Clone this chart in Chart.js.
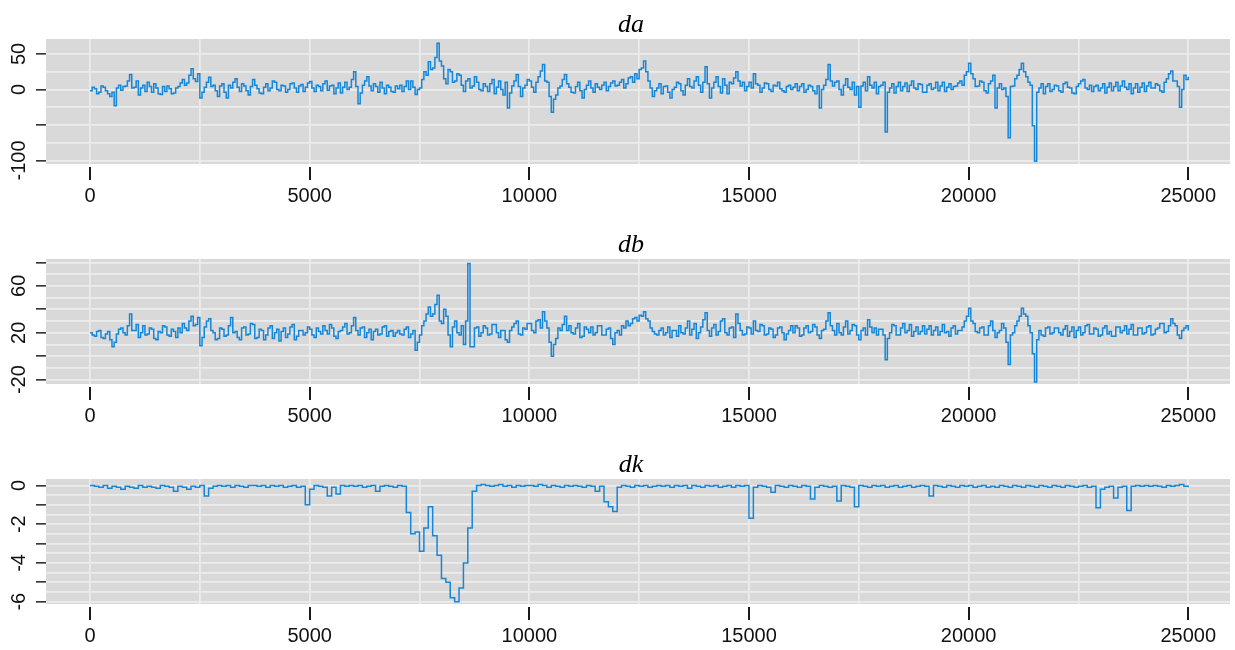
<!DOCTYPE html>
<html>
<head>
<meta charset="utf-8">
<script src="https://cdn.jsdelivr.net/npm/chart.js@4.4.1/dist/chart.umd.min.js"></script>
<style>
  html, body { margin: 0; padding: 0; background: #fff; }
  .panel { position: absolute; left: 0; width: 1235px; }
</style>
</head>
<body>
<div class="panel" style="top:0;height:220px"><canvas id="c1"></canvas></div>
<div class="panel" style="top:220px;height:220px"><canvas id="c2"></canvas></div>
<div class="panel" style="top:440px;height:210px"><canvas id="c3"></canvas></div>
<script>
// values; da and db every 50 steps, dk every 100 steps
const DA_STEP = 50;
const DB_STEP = 50;
const DK_STEP = 100;

const da = [
  -2, 3, 1, -6, -4, 5, 3, -2, -6, -10, -4, -23, 2, 6, -1, 4, 5, 12, 21, 2,
  3, 12, -8, 2, 6, -3, 10, 4, -4, 8, 2, -6, -7, 4, -3, 5, 1, -6, -5, 2,
  4, 9, 14, 6, 9, 20, 29, 15, 11, 22, -12, -4, 3, 10, 17, 4, 6, -2, -10, 5,
  8, -4, -12, 6, 2, 10, 15, 3, -3, 8, 5, -2, -8, 4, 14, 6, 1, -5, -6, 3,
  8, -2, 2, 12, 10, 0, -2, 6, 5, -4, 0, 8, 9, 2, -4, 5, 7, -3, 3, 9,
  11, 2, -3, 6, 4, -2, 8, 12, -1, 5, 6, -6, 2, 9, -5, 3, 10, 0, 3, 14,
  25, 4, -20, -5, 6, 12, 18, 5, -2, 8, 4, -4, 10, 2, -6, 6, 3, -3, -4, 5,
  1, 6, -3, 4, 12, 0, 12, 3, -7, 0, 2, 14, 25, 20, 39, 28, 30, 45, 65, 40,
  33, 15, 8, 28, 25, 10, 12, 22, 20, 6, -3, 12, 15, 2, 5, 18, 10, 0, -2, 8,
  4, -3, 8, 14, -6, 3, 12, 0, -8, 10, -26, -5, 5, 12, 21, 4, -10, 2, 6, 14,
  12, 3, -4, 10, 18, 26, 35, 12, 10, -10, -32, -14, -8, 2, 5, 14, 21, 8, 3, -4,
  -5, 4, 10, -2, -12, 0, 6, 12, 2, -4, 8, 3, 0, 6, 10, -2, 4, 9, 12, 5,
  6, 10, 14, 2, 8, 16, 18, 10, 22, 15, 28, 30, 40, 25, 12, 2, -10, -2, 2, 8,
  -6, 4, 5, -4, -12, 0, 3, 10, 8, -2, -8, 6, 15, 4, 2, 12, 18, 6, -4, 10,
  32, 8, -12, 2, 10, 18, 4, -5, 15, 6, -6, 10, 8, 16, 25, 12, 5, 10, -2, 4,
  10, 2, 22, 8, 6, -4, 2, 9, 8, 0, -3, 6, 5, 10, 1, -2, -4, 4, 6, 0,
  3, 8, -2, 4, 8, -4, 0, 6, 4, -2, -6, 5, -26, 0, 6, 14, 35, 12, 5, 10,
  12, 0, -8, 6, 15, 3, 0, 10, -8, 4, -25, 5, 10, -2, 18, 6, 2, 10, -6, 4,
  6, 10, -60, -4, 2, 8, -5, 4, 10, -2, 4, 9, -3, 6, 12, 2, 0, 8, 7, -4,
  -4, 6, 8, 0, 2, 10, -2, 5, 10, -3, 3, 8, 0, 4, 5, 9, 12, 6, 20, 25,
  37, 22, 15, 4, 5, 12, 10, -2, -5, 8, 12, 20, -26, 2, 8, 0, 2, -10, -68, 4,
  5, 15, 20, 28, 37, 25, 18, 10, 6, -51, -101, -4, 2, 8, -6, 4, 8, -3, 0, 6,
  5, -2, -4, 8, 10, 3, 2, -5, -6, 4, 8, 12, 14, 2, 0, 6, -3, 4, 6, -2,
  2, 8, -5, 3, 9, -2, 4, 10, -2, 5, 12, 3, 0, 8, -6, 2, 8, -4, 3, 9,
  -3, 5, 10, 2, 2, 8, 6, -2, -4, 10, 15, 22, 26, 12, 12, 4, -25, 0, 20, 14,
  18
];

const db = [
  20, 18, 17, 21, 22, 16, 15, 19, 21, 14, 8, 12, 19, 23, 24, 20, 18, 26, 36, 22,
  22, 27, 16, 20, 26, 18, 19, 24, 23, 15, 14, 21, 20, 26, 25, 18, 17, 23, 21, 16,
  24, 20, 28, 24, 22, 30, 34, 26, 27, 33, 9, 16, 25, 30, 32, 22, 20, 14, 15, 24,
  23, 17, 18, 26, 33, 20, 21, 16, 14, 24, 25, 18, 19, 28, 27, 15, 16, 23, 22, 14,
  18, 24, 26, 15, 20, 23, 13, 21, 24, 16, 19, 25, 27, 14, 17, 22, 22, 18, 20, 25,
  23, 18, 16, 24, 21, 19, 26, 22, 19, 27, 24, 17, 15, 21, 22, 25, 28, 19, 20, 26,
  33, 22, 18, 24, 25, 16, 20, 23, 14, 21, 23, 18, 19, 25, 26, 17, 21, 22, 17, 20,
  22, 19, 18, 23, 25, 16, 19, 22, 5, 12, 18, 26, 30, 36, 42, 34, 36, 44, 52, 30,
  28, 40, 34, 18, 8, 25, 30, 20, 18, 26, 10, 30, 79, 8, 8, 24, 25, 17, 20, 26,
  24, 18, 19, 27, 27, 20, 16, 22, 22, 14, 12, 22, 25, 28, 30, 19, 18, 24, 23, 28,
  28, 22, 20, 30, 31, 24, 38, 30, 24, 12, 0, 10, 15, 24, 22, 27, 34, 22, 26, 20,
  19, 24, 28, 16, 17, 25, 23, 20, 25, 18, 20, 26, 26, 18, 18, 23, 24, 15, 10, 20,
  22, 18, 26, 24, 30, 26, 28, 32, 33, 30, 35, 34, 38, 32, 30, 24, 21, 19, 18, 22,
  24, 18, 20, 25, 16, 22, 22, 17, 26, 20, 19, 24, 30, 18, 23, 28, 15, 20, 25, 31,
  37, 22, 17, 24, 27, 18, 21, 30, 32, 20, 18, 24, 25, 16, 36, 28, 22, 18, 19, 25,
  24, 19, 30, 22, 21, 27, 26, 18, 19, 24, 23, 16, 18, 24, 25, 20, 14, 19, 22, 26,
  20, 26, 24, 17, 18, 24, 26, 20, 21, 27, 25, 18, 15, 22, 23, 30, 37, 26, 22, 18,
  28, 20, 18, 25, 30, 19, 22, 27, 26, 18, 14, 22, 24, 18, 31, 25, 20, 24, 18, 23,
  23, 18, -3, 15, 20, 27, 26, 18, 18, 24, 28, 20, 22, 27, 17, 21, 25, 19, 21, 26,
  19, 23, 26, 18, 22, 25, 18, 21, 27, 20, 21, 17, 24, 26, 19, 22, 22, 25, 30, 34,
  41, 30, 28, 21, 20, 24, 25, 18, 18, 26, 30, 22, 16, 20, 22, 28, 24, 12, -7, 18,
  20, 26, 30, 34, 41, 36, 34, 26, 20, 2, -22, 14, 22, 18, 17, 24, 25, 19, 20, 24,
  24, 20, 18, 23, 26, 17, 21, 25, 16, 22, 25, 18, 20, 26, 27, 19, 19, 24, 23, 17,
  18, 24, 26, 19, 21, 17, 17, 25, 25, 20, 22, 26, 19, 23, 27, 18, 18, 24, 24, 19,
  20, 25, 26, 18, 19, 23, 24, 28, 28, 20, 21, 26, 32, 28, 26, 18, 15, 22, 24, 26,
  22
];

const dk = [
  0, -0.05, -0.1, 0, -0.15, -0.05, -0.1, -0.2, -0.05, -0.1,
  -0.15, 0, -0.1, -0.05, -0.1, -0.15, 0, -0.05, -0.1, -0.3,
  -0.05, -0.1, -0.2, -0.05, -0.1, 0, -0.55, -0.15, -0.05, 0,
  -0.05, 0, -0.1, 0, -0.05, -0.1, 0, 0, -0.05, 0,
  -0.1, 0, -0.05, 0, -0.1, -0.05, 0, -0.1, -0.05, -1.0,
  -0.2, 0, -0.05, -0.1, -0.55, -0.1, -0.45, 0, -0.05, 0,
  -0.05, 0, -0.1, -0.05, 0, -0.3, -0.05, 0, -0.05, -0.1,
  0, -0.05, -1.4, -2.5, -2.4, -3.4, -2.2, -1.1, -2.6, -3.6,
  -4.8, -5.0, -5.8, -6.0, -5.3, -4.0, -2.2, -0.3, 0, 0.05,
  0, -0.05, 0, 0.05, -0.05, 0, -0.1, 0, -0.05, 0,
  0, -0.05, 0.05, 0, -0.1, 0, -0.05, -0.1, 0, -0.05,
  0, -0.05, -0.1, 0, -0.05, -0.3, -0.05, -0.85, -1.1, -1.35,
  -0.1, 0, -0.05, -0.1, 0, -0.05, 0, -0.1, -0.05, 0,
  -0.05, 0, -0.1, 0, -0.05, 0, -0.15, 0, -0.05, -0.1,
  0, -0.05, 0, -0.1, -0.05, 0, -0.1, 0, -0.05, 0,
  -1.7, -0.1, 0, -0.05, -0.1, -0.35, 0, -0.05, -0.1, 0,
  -0.05, -0.1, 0, -0.05, -0.7, -0.1, 0, -0.05, -0.1, -0.05,
  -0.8, 0, -0.05, -0.1, -1.1, 0, -0.05, -0.1, 0, -0.05,
  0, -0.1, -0.05, 0, -0.1, -0.05, 0, -0.1, -0.05, 0,
  -0.05, -0.55, 0, -0.05, -0.1, 0, -0.05, -0.1, 0, -0.05,
  0, -0.1, -0.05, 0, -0.1, -0.05, -0.1, 0, -0.05, -0.1,
  0, -0.05, -0.1, 0, -0.05, -0.1, 0, -0.05, -0.1, 0,
  -0.05, -0.1, 0, -0.05, -0.1, -0.05, 0, -0.1, -0.05, -1.15,
  -0.2, -0.1, -0.05, -0.65, -0.1, -0.05, -1.3, -0.05, 0, -0.05,
  0, -0.05, 0, -0.05, -0.1, 0, -0.05, 0, 0.05, -0.05,
  -0.1
];

const xGridValues = [0, 2500, 5000, 7500, 10000, 12500, 15000, 17500, 20000, 22500, 25000];
const xTickLabels = [0, 5000, 10000, 15000, 20000, 25000];
const daTickLabels = [50, 0, -100];
const dbTickLabels = [60, 20, -20];
const dkTickLabels = [0, -2, -4, -6];

const LINE_COLOR = '#1487d9';
const PANEL_BG = '#d9d9d9';
const GRID_COLOR = '#ececec';
const FONT = '"Liberation Sans", Arial, sans-serif';

const panelBg = {
  id: 'panelBg',
  beforeDraw(chart) {
    const { ctx, chartArea: a } = chart;
    ctx.save();
    ctx.fillStyle = PANEL_BG;
    ctx.fillRect(a.left, a.top, a.right - a.left, a.bottom - a.top);
    ctx.restore();
  }
};

// title in italic serif, plus the short x tick marks under the panel
const panelDecor = {
  id: 'panelDecor',
  afterDraw(chart, args, opts) {
    const ctx = chart.ctx;
    const xs = chart.scales.x;
    const a = chart.chartArea;
    ctx.save();
    ctx.fillStyle = '#1a1a1a';
    xTickLabels.forEach(v => {
      const px = Math.round(xs.getPixelForValue(v));
      ctx.fillRect(px - 1, a.bottom + 3, 2, 13);
    });

    ctx.font = 'italic 26px "Liberation Serif", "DejaVu Serif", serif';
    ctx.fillStyle = '#000';
    ctx.textAlign = 'center';
    ctx.textBaseline = 'alphabetic';
    ctx.fillText(opts.text, 631, 32);
    ctx.restore();
  }
};

function isMultiple(v, m) {
  return Math.abs(v / m - Math.round(v / m)) < 1e-6;
}

function makePanel(id, title, values, step, yMin, yMax, yStep, yMark, yLabels, yPad, xAxisHeight) {
  const points = values.map((v, i) => ({ x: i * step, y: v }));
  return new Chart(document.getElementById(id), {
    type: 'line',
    data: {
      datasets: [{
        data: points,
        borderColor: LINE_COLOR,
        borderWidth: 1.5,
        pointRadius: 0,
        stepped: true,
        fill: false
      }]
    },
    options: {
      responsive: true,
      maintainAspectRatio: false,
      animation: false,
      layout: { padding: { top: 39, right: 5, left: 0, bottom: 0 } },
      plugins: {
        legend: { display: false },
        tooltip: { enabled: false },
        panelDecor: { text: title }
      },
      scales: {
        x: {
          type: 'linear',
          min: -1002,
          max: 25950,
          border: { display: false },
          grid: {
            color: GRID_COLOR,
            lineWidth: 1.7,
            drawTicks: true,
            tickLength: 14,
            tickColor: 'rgba(0,0,0,0)'
          },
          ticks: {
            autoSkip: false,
            maxRotation: 0,
            minRotation: 0,
            padding: 6,
            color: '#111',
            font: { family: FONT, size: 20 },
            callback: v => xTickLabels.includes(v) ? String(v) : ''
          },
          afterBuildTicks: s => { s.ticks = xGridValues.map(v => ({ value: v })); },
          afterFit: s => { s.height = xAxisHeight; }
        },
        y: {
          min: yMin,
          max: yMax,
          border: { display: false },
          grid: {
            color: GRID_COLOR,
            lineWidth: 1.7,
            drawTicks: true,
            tickLength: 10,
            tickWidth: 1.5,
            tickColor: c => (c.tick && isMultiple(c.tick.value, yMark)) ? '#222' : 'rgba(0,0,0,0)'
          },
          ticks: {
            stepSize: yStep,
            includeBounds: false,
            autoSkip: false,
            minRotation: 90,
            maxRotation: 90,
            crossAlign: 'center',
            padding: yPad,
            color: '#111',
            font: { family: FONT, size: 20 },
            callback: v => yLabels.some(l => Math.abs(l - v) < 1e-6) ? String(Math.round(v)) : ''
          },
          afterFit: s => { s.width = 46; }
        }
      }
    },
    plugins: [panelBg, panelDecor]
  });
}

makePanel('c1', 'da', da, DA_STEP, -105, 71, 25, 50, daTickLabels, -3, 56);
makePanel('c2', 'db', db, DB_STEP, -23.7, 82.9, 10, 20, dbTickLabels, 2.5, 56);
makePanel('c3', 'dk', dk, DK_STEP, -6.12, 0.33, 0.5, 1, dkTickLabels, 8, 46);
</script>
</body>
</html>
